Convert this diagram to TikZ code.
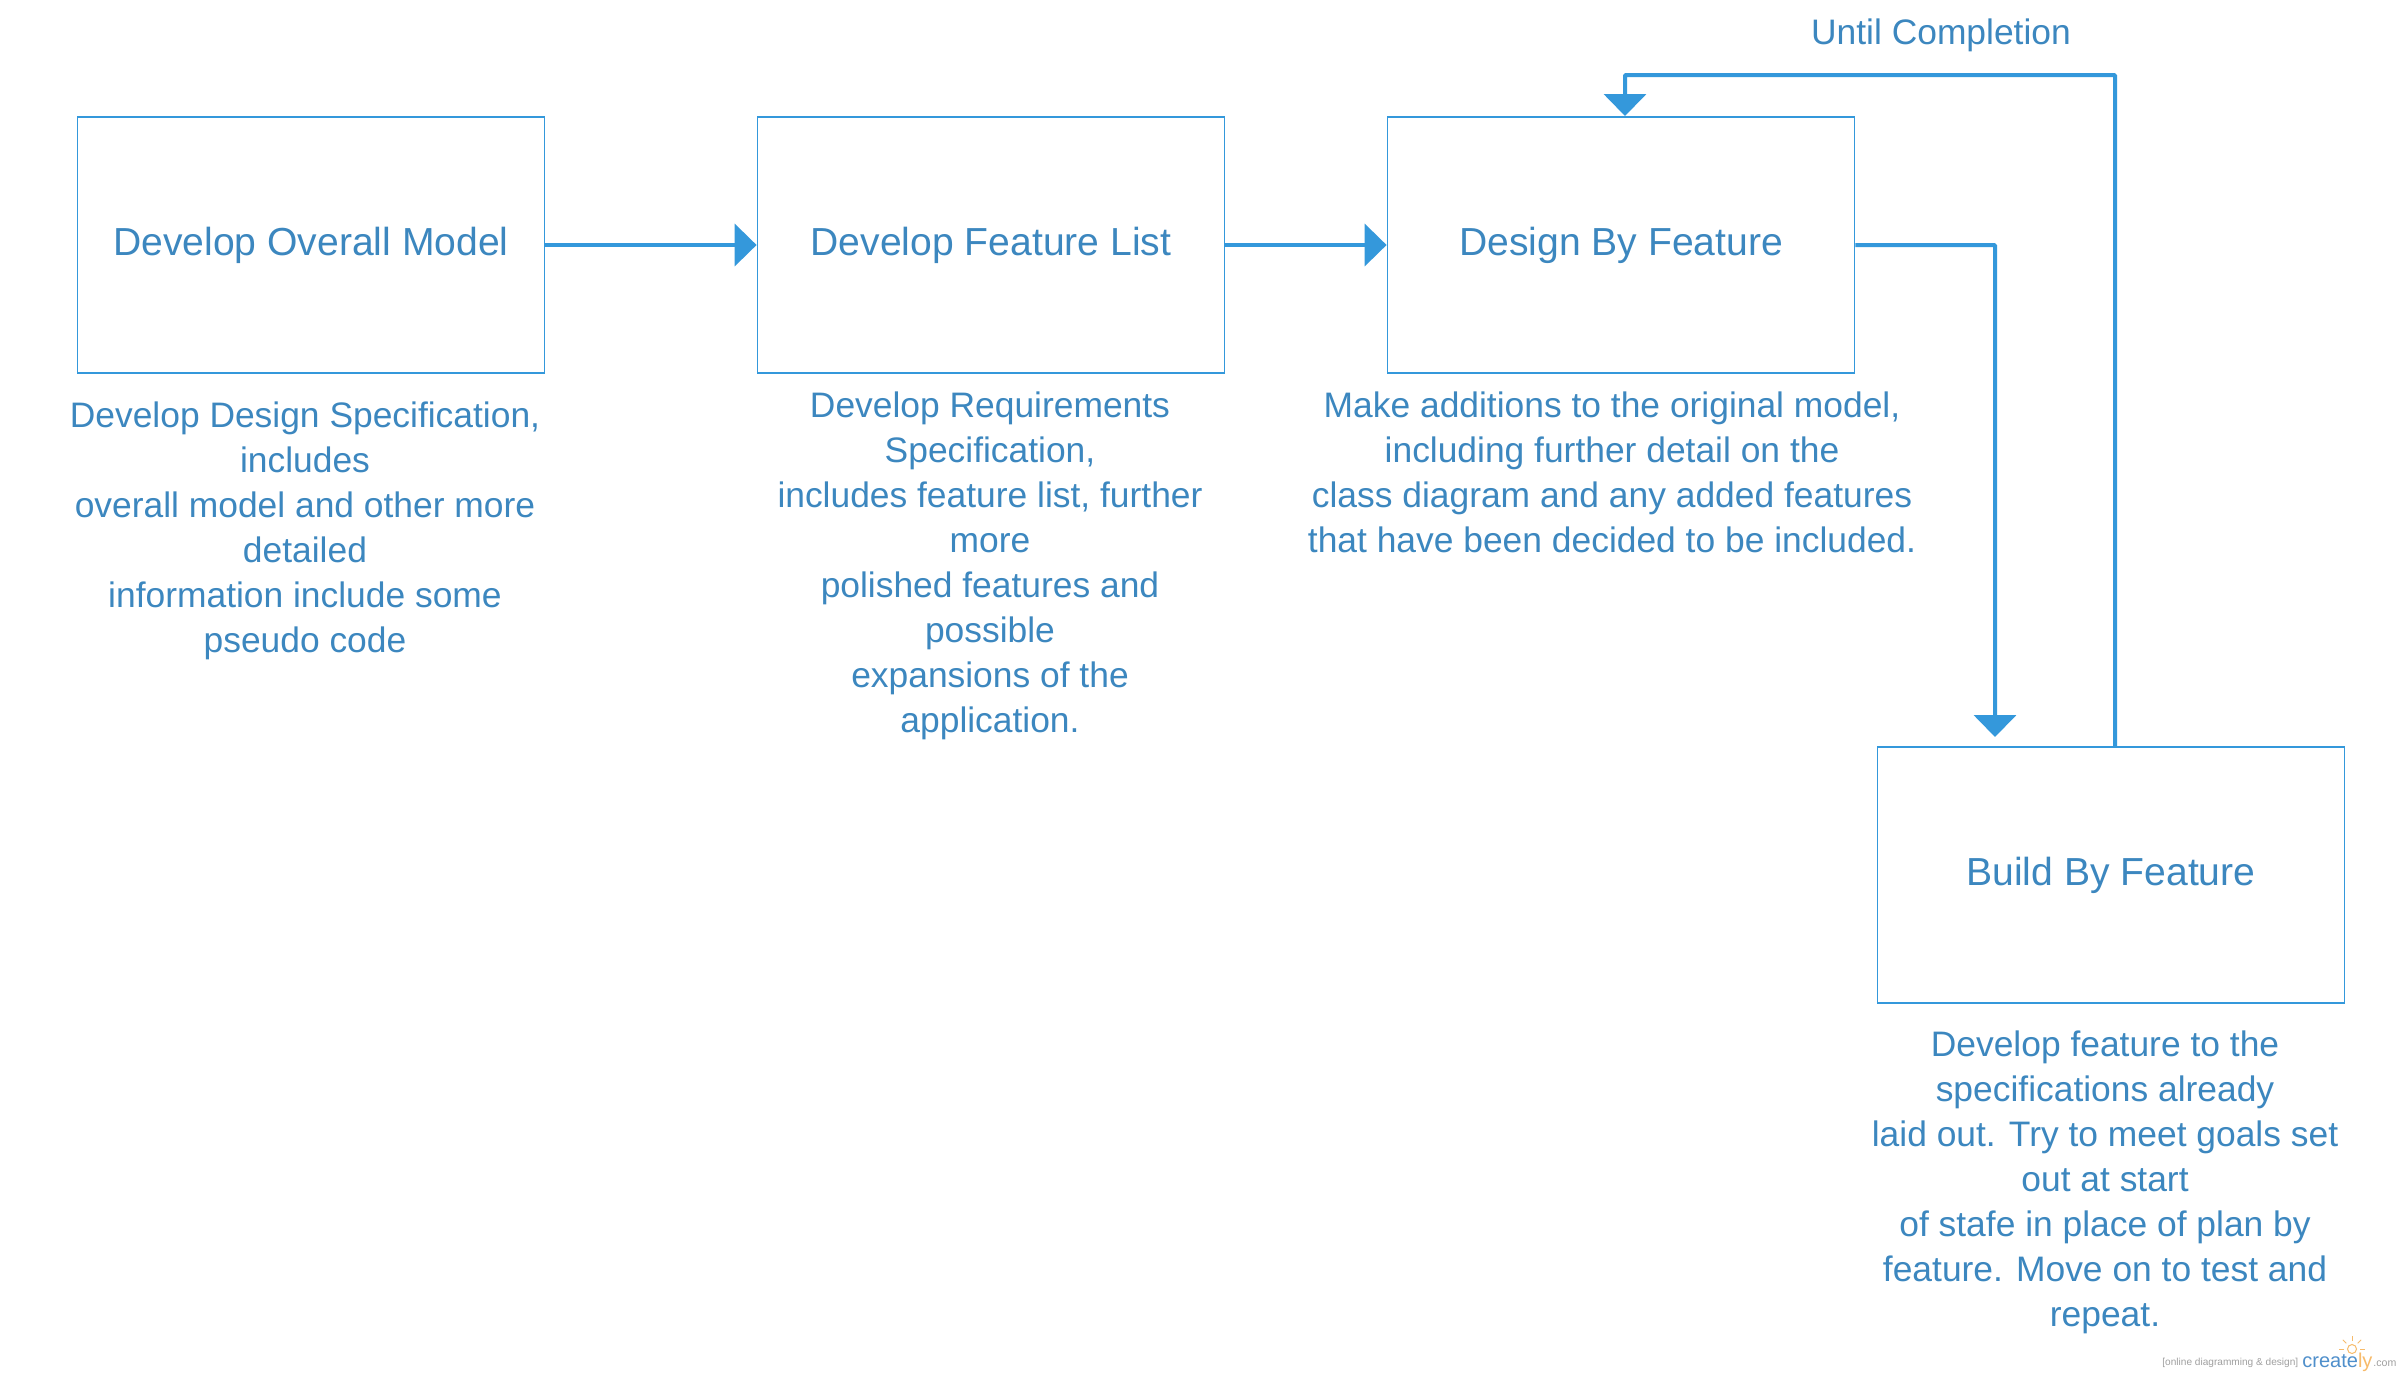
\documentclass[tikz,border=0pt]{standalone}
\usepackage{fontspec}
\setmainfont{Liberation Sans}
\usetikzlibrary{arrows.meta}
\definecolor{linec}{HTML}{3498DB}
\definecolor{textc}{HTML}{3C87BF}
\definecolor{logog}{HTML}{A0A0A0}
\definecolor{logob}{HTML}{4F8FCB}
\definecolor{logoo}{HTML}{F7BB6B}
\tikzset{
  x=0.5pt,y=-0.5pt,
  procbox/.style={draw=linec,line width=0.9pt,fill=white,minimum width=233.5pt,minimum height=128pt,inner sep=0pt,text=textc,font=\fontsize{19.55}{24}\selectfont,anchor=center},
  desc/.style={text=textc,align=center,inner sep=0pt,font=\fontsize{17.7}{22.5}\selectfont},
  flow/.style={draw=linec,line width=2pt,-{Triangle[length=11pt,width=21pt,fill=linec]},rounded corners=0.5pt},
  logotext/.style={inner sep=0pt,anchor=base west},
}
\begin{document}
\begin{tikzpicture}
\useasboundingbox[fill=white] (0,0) rectangle (2400,1377);
\node[procbox] (model) at (311,245) {\raisebox{1.2pt}{Develop Overall Model}};
\node[procbox] (list) at (991,245) {\raisebox{1.2pt}{Develop Feature List}};
\node[procbox] (design) at (1621,245) {\raisebox{1.2pt}{Design By Feature}};
\node[procbox] (build) at (2111,875) {\raisebox{1.2pt}{Build By Feature}};
\coordinate (designtop) at (1625,116);
\coordinate (buildtop) at (1995,737);
\coordinate (returnR) at (2115,747);
\coordinate (returnC) at (1625,75);
\draw[flow] (model.east) -- (list.west);
\draw[flow] (list.east) -- (design.west);
\draw[flow] (design.east) -| (buildtop);
\draw[flow] (returnR) |- (returnC) -- (designtop);
\node[desc] (d1) at (305,530.5) {Develop Design Specification,\\includes\\overall model and other more\\detailed\\information include some\\pseudo code};
\node[desc] (d2) at (990,565.5) {Develop Requirements\\Specification,\\includes feature list, further\\more\\polished features and\\possible\\expansions of the\\application.};
\node[desc] (d3) at (1612,472) {Make additions to the original model,\\including further detail on the\\class diagram and any added features\\that have been decided to be included.};
\node[desc] (d4) at (2105,1182.5) {Develop feature to the\\specifications already\\laid out. Try to meet goals set\\out at start\\of stafe in place of plan by\\feature. Move on to test and\\repeat.};
\node[desc] (until) at (1941,35) {Until Completion};
% logo
\node[logotext,text=logog,font=\fontsize{5.05}{6}\selectfont] (l1) at (2162,1365) {[online diagramming \& design]};
\node[logotext,font=\fontsize{10}{12}\selectfont] (l2) at (2302,1367) {\textcolor{logob}{create}\textcolor{logoo}{ly}};
\node[logotext,text=logog,font=\fontsize{5.3}{6}\selectfont] (l3) at (2373,1366) {.com};
\draw[logoo,line width=0.5pt] (2352,1349) circle (4.5);
\foreach \a in {0,45,135,180,90}
  \draw[logoo,line width=0.4pt] (2352,1349) ++(-\a:8) -- ++(-\a:5);
\end{tikzpicture}
\end{document}
